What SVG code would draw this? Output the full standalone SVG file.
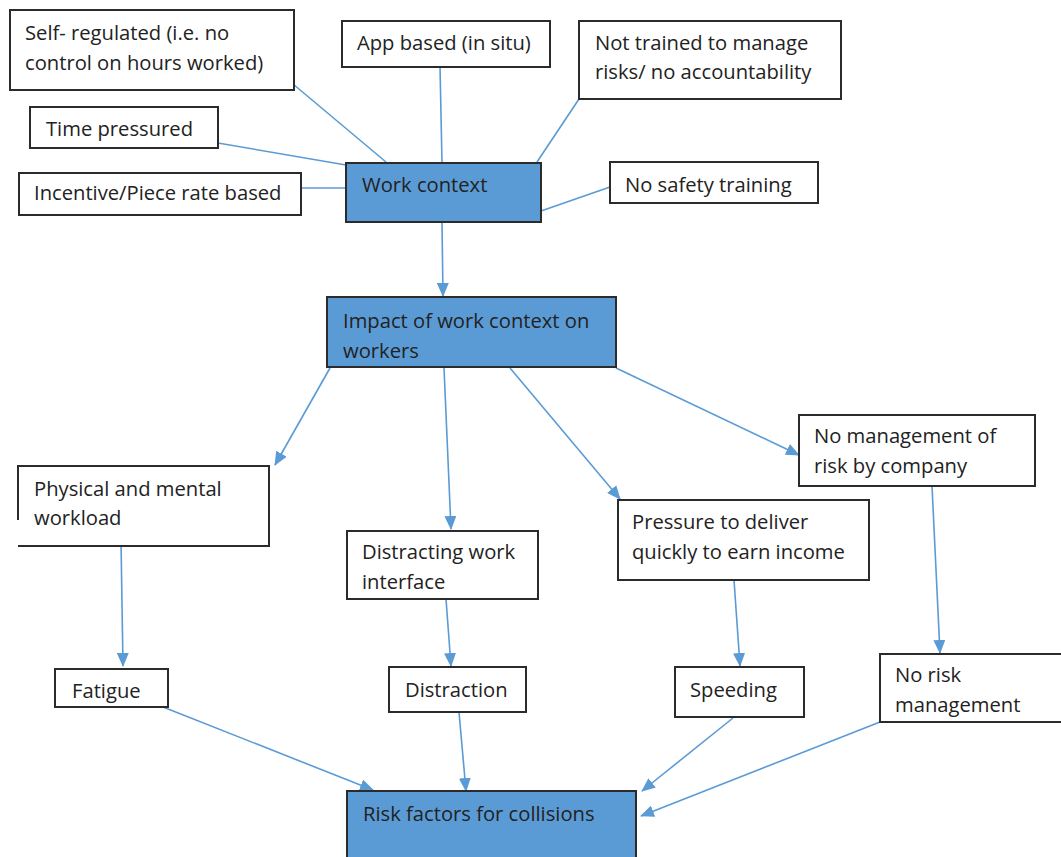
<svg xmlns="http://www.w3.org/2000/svg" width="1061" height="857" viewBox="0 0 1061 857">
<style>
.b{fill:#fff;stroke:#2b2b2b;stroke-width:2}
.f{fill:#5b9bd5;stroke:#2b2b2b;stroke-width:2}
text{font-family:"Open Sans","Liberation Sans",sans-serif;font-size:20.2px;fill:#222}
.c line{stroke:#5b9bd5;stroke-width:1.6}
.c line.a{marker-end:url(#ah)}
</style>
<defs>
<marker id="ah" markerUnits="userSpaceOnUse" markerWidth="14" markerHeight="12" refX="13" refY="6" orient="auto">
<path d="M0,0 L14,6 L0,12 Z" fill="#5b9bd5"/>
</marker>
</defs>
<rect width="1061" height="857" fill="#fff"/>
<g class="c" id="connectors">
<line x1="293" y1="84" x2="386" y2="162"/>
<line x1="218" y1="143" x2="346" y2="165"/>
<line x1="301" y1="188" x2="346" y2="188"/>
<line x1="440" y1="66" x2="442" y2="163"/>
<line x1="585" y1="90" x2="537" y2="162"/>
<line x1="610" y1="187" x2="541" y2="211"/>
<line class="a" x1="442" y1="223" x2="443" y2="296"/>
<line class="a" x1="330" y1="368" x2="275" y2="465"/>
<line class="a" x1="444" y1="368" x2="451" y2="529"/>
<line class="a" x1="510" y1="368" x2="620" y2="499"/>
<line class="a" x1="616" y1="368" x2="799" y2="455"/>
<line class="a" x1="121" y1="541" x2="123" y2="666"/>
<line class="a" x1="446" y1="599" x2="451" y2="666"/>
<line class="a" x1="734" y1="580" x2="740" y2="666"/>
<line class="a" x1="932" y1="486" x2="940" y2="653"/>
<line class="a" x1="163" y1="707" x2="373" y2="790"/>
<line class="a" x1="459" y1="712" x2="466" y2="791"/>
<line class="a" x1="733" y1="718" x2="642" y2="791"/>
<line class="a" x1="880" y1="722" x2="641" y2="816"/>
</g>
<g id="n-self"><rect class="b" x="10" y="10" width="284" height="80"/><text x="25" y="40">Self- regulated (i.e. no</text><text x="25" y="70">control on hours worked)</text></g>
<g id="n-app"><rect class="b" x="342" y="21" width="208" height="46"/><text x="357" y="50">App based (in situ)</text></g>
<g id="n-nottrained"><rect class="b" x="579" y="21" width="262" height="78"/><text x="595" y="50">Not trained to manage</text><text x="595" y="79">risks/ no accountability</text></g>
<g id="n-time"><rect class="b" x="30" y="107" width="188" height="41"/><text x="46" y="136">Time pressured</text></g>
<g id="n-incentive"><rect class="b" x="19" y="173" width="282" height="42"/><text x="34" y="200">Incentive/Piece rate based</text></g>
<g id="n-work"><rect class="f" x="346" y="163" width="195" height="59"/><text x="362" y="192">Work context</text></g>
<g id="n-safety"><rect class="b" x="610" y="162" width="208" height="41"/><text x="625" y="192">No safety training</text></g>
<g id="n-impact"><rect class="f" x="327" y="297" width="289" height="70"/><text x="343" y="328">Impact of work context on</text><text x="343" y="358">workers</text></g>
<g id="n-physical"><path d="M18,520 V466 H269 V546 H18" fill="#fff" stroke="#2b2b2b" stroke-width="2"/><text x="34" y="496">Physical and mental</text><text x="34" y="525">workload</text></g>
<g id="n-distracting"><rect class="b" x="347" y="531" width="191" height="68"/><text x="362" y="559">Distracting work</text><text x="362" y="589">interface</text></g>
<g id="n-pressure"><rect class="b" x="618" y="500" width="251" height="80"/><text x="632" y="529">Pressure to deliver</text><text x="632" y="559">quickly to earn income</text></g>
<g id="n-nomgmt"><rect class="b" x="799" y="415" width="236" height="71"/><text x="814" y="443">No management of</text><text x="814" y="473">risk by company</text></g>
<g id="n-fatigue"><rect class="b" x="55" y="669" width="113" height="38"/><text x="72" y="698">Fatigue</text></g>
<g id="n-distraction"><rect class="b" x="389" y="667" width="137" height="45"/><text x="405" y="697">Distraction</text></g>
<g id="n-speeding"><rect class="b" x="675" y="667" width="129" height="50"/><text x="690" y="697">Speeding</text></g>
<g id="n-norisk"><rect class="b" x="880" y="654" width="185" height="68"/><text x="895" y="682">No risk</text><text x="895" y="712">management</text></g>
<g id="n-risk"><rect class="f" x="347" y="791" width="289" height="70"/><text x="363" y="821">Risk factors for collisions</text></g>
</svg>
